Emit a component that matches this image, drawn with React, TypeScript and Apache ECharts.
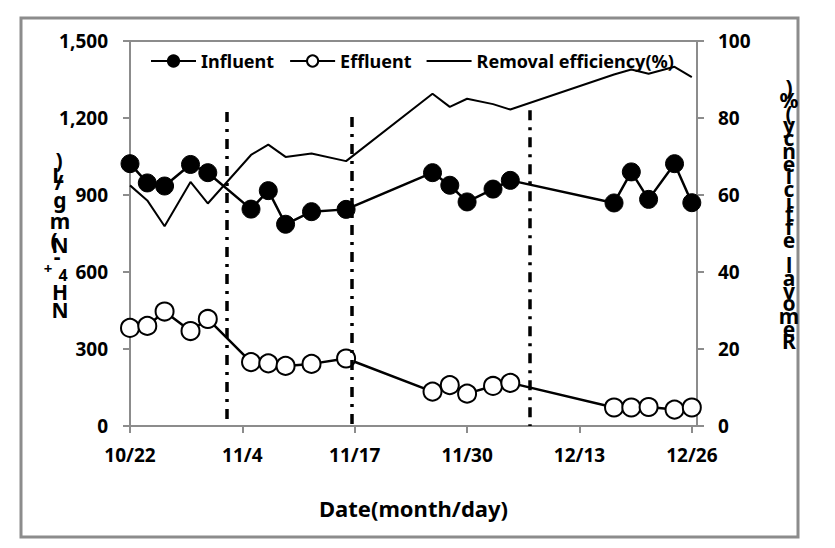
import React, { useEffect, useRef } from "react";
import * as echarts from "echarts";

const dates = ["10/22","10/24","10/26","10/29","10/31","11/5","11/7","11/9","11/12","11/16","11/26","11/28","11/30","12/3","12/5","12/17","12/19","12/21","12/24","12/26"];
const influent = [1022,947,935,1019,987,845,917,786,835,844,987,938,873,923,957,869,990,883,1022,870];
const effluent = [382,390,446,370,417,249,244,234,242,263,134,159,126,156,168,72,72,74,64,72];
const removal = [62.5,58.6,51.9,63.4,57.8,70.4,73.1,69.9,70.8,68.8,86.3,82.9,85.0,83.6,82.2,91.3,92.6,91.5,93.3,90.6];

const xTickLabels = ["10/22","11/4","11/17","11/30","12/13","12/26"];
const phaseLineDays = [11.2, 25.7, 46.2];
const phaseLineTops = [1223, 1204, 1230];

const seriesNames = ["Influent", "Effluent", "Removal efficiency(%)"];
const rightTitle = "Removal efficiency(%)";

function dayOffset(s: string): number {
  const [m, d] = s.split("/").map(Number);
  return Math.round((Date.UTC(2000, m - 1, d) - Date.UTC(2000, 9, 22)) / 86400000);
}

const FONT = "'Noto Sans', 'DejaVu Sans', sans-serif";

export default function App() {
  const ref = useRef<HTMLDivElement>(null);
  useEffect(() => {
    document.body.style.margin = "0";
    if (!ref.current) return;
    const chart = echarts.init(ref.current, null, { renderer: "svg" });
    const xs = dates.map(dayOffset);
    const tickDays = xTickLabels.map(dayOffset);
    const labelMap: Record<number, string> = {};
    tickDays.forEach((d, i) => (labelMap[d] = xTickLabels[i]));

    const leftGlyphs: [string, number, number, number][] = [
      [")", 59, 160, 21],
      ["L", 58, 175, 21],
      ["/", 59, 182, 21],
      ["g", 60, 200, 21],
      ["m", 60, 221, 21],
      ["(", 54, 240, 21],
      ["N", 60, 245, 21],
      ["-", 57, 256, 21],
      ["+", 48, 268, 15],
      ["4", 63, 275, 16],
      ["H", 60, 292, 21],
      ["N", 60, 310, 21],
    ];

    const option: any = {
      animation: false,
      backgroundColor: "#ffffff",
      textStyle: { fontFamily: FONT },
      grid: {
        left: 130, right: 138, top: 41, bottom: 122,
        show: true, borderColor: "#8c8c8c", borderWidth: 2,
      },
      legend: {
        left: 150, top: 52, padding: 0, itemGap: 15, itemWidth: 45, itemHeight: 14,
        data: [
          { name: seriesNames[0] },
          { name: seriesNames[1] },
          { name: seriesNames[2], icon: "path://M0,0h45v2h-45z" },
        ],
        textStyle: { fontFamily: FONT, fontSize: 18, fontWeight: "bold", color: "#000" },
      },
      xAxis: {
        type: "value", min: 0, max: 65.6,
        axisLine: { lineStyle: { color: "#8c8c8c", width: 2 } },
        axisTick: { show: true, length: 7, inside: false, customValues: tickDays, lineStyle: { color: "#8c8c8c", width: 2 } },
        axisLabel: {
          customValues: tickDays, margin: 19, color: "#000", fontSize: 19, fontWeight: "bold", fontFamily: FONT,
          formatter: (v: number) => labelMap[v] ?? "",
        },
        splitLine: { show: false },
        name: "Date(month/day)", nameLocation: "middle", nameGap: 71,
        nameTextStyle: { fontSize: 22, fontWeight: "bold", color: "#000", fontFamily: FONT },
      },
      yAxis: [
        {
          type: "value", min: 0, max: 1500, interval: 300,
          axisLine: { show: true, lineStyle: { color: "#8c8c8c", width: 2 } },
          axisTick: { show: true, length: 7, lineStyle: { color: "#8c8c8c", width: 2 } },
          axisLabel: {
            margin: 22, color: "#000", fontSize: 19, fontWeight: "bold", fontFamily: FONT,
            formatter: (v: number) => v.toLocaleString("en-US"),
          },
          splitLine: { show: false },
        },
        {
          type: "value", min: 0, max: 100, interval: 20, position: "right",
          axisLine: { show: true, lineStyle: { color: "#8c8c8c", width: 2 } },
          axisTick: { show: true, length: 7, lineStyle: { color: "#8c8c8c", width: 2 } },
          axisLabel: { margin: 21, color: "#000", fontSize: 19, fontWeight: "bold", fontFamily: FONT },
          splitLine: { show: false },
        },
      ],
      series: [
        {
          name: seriesNames[0], type: "line", yAxisIndex: 0,
          data: xs.map((x, i) => [x, influent[i]]),
          symbol: "circle", symbolSize: 18,
          itemStyle: { color: "#000", borderColor: "#000", borderWidth: 1 },
          lineStyle: { color: "#000", width: 2.5 },
          z: 3,
          markLine: {
            silent: true, symbol: "none", animation: false,
            label: { show: false },
            lineStyle: { color: "#000", width: 3.5, type: [10, 7, 3, 7] },
            data: phaseLineDays.map((d, i) => [
              { coord: [d, phaseLineTops[i]] },
              { coord: [d, 0] },
            ]),
          },
        },
        {
          name: seriesNames[1], type: "line", yAxisIndex: 0,
          data: xs.map((x, i) => [x, effluent[i]]),
          symbol: "circle", symbolSize: 18,
          itemStyle: { color: "#fff", borderColor: "#000", borderWidth: 2 },
          lineStyle: { color: "#000", width: 2.5 },
          z: 3,
        },
        {
          name: seriesNames[2], type: "line", yAxisIndex: 1,
          data: xs.map((x, i) => [x, removal[i]]),
          symbol: "none", showSymbol: false,
          itemStyle: { color: "#000" },
          lineStyle: { color: "#000", width: 2 },
          z: 4,
        },
      ],
      graphic: [
        {
          type: "rect", silent: true,
          shape: { x: 21, y: 18, width: 777, height: 519 },
          style: { fill: "none", stroke: "#8c8c8c", lineWidth: 3 },
        },
        ...leftGlyphs.map(([ch, x, y, size]) => ({
          type: "text", silent: true, x, y,
          style: {
            text: ch, fill: "#000", font: `bold ${size}px ${FONT}`,
            textAlign: "center", textVerticalAlign: "middle",
          },
        })),
        {
          type: "text", silent: true, x: 789, y: 81,
          style: {
            text: rightTitle.split("").reverse().join("\n"),
            fill: "#000", font: `bold 21px ${FONT}`, lineHeight: 12.7,
            textAlign: "center", textVerticalAlign: "top",
          },
        },
      ],
    };
    chart.setOption(option);
    return () => chart.dispose();
  }, []);
  return <div ref={ref} style={{ width: 835, height: 548 }} />;
}
